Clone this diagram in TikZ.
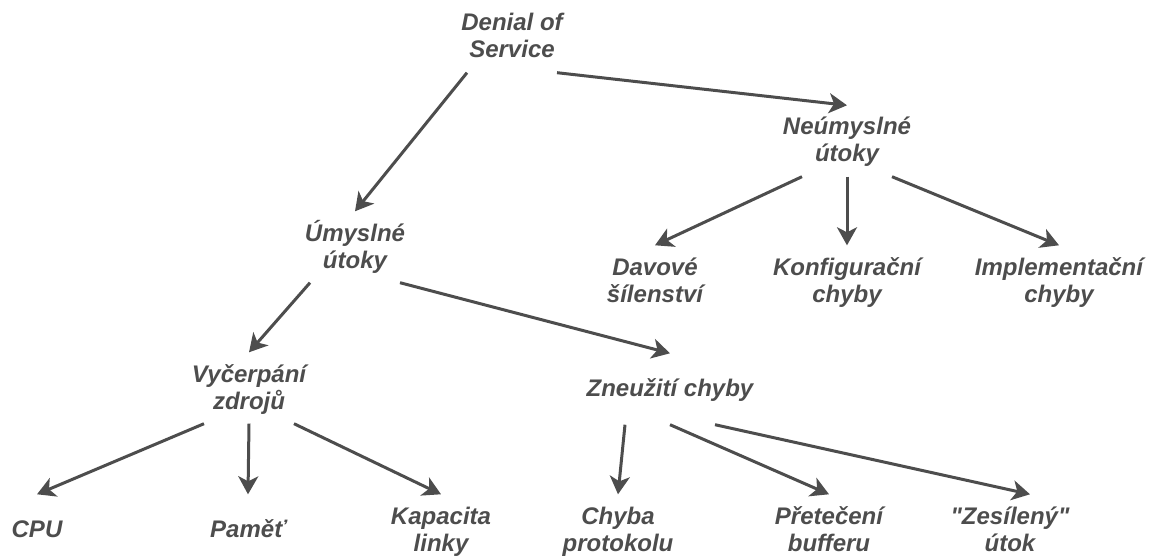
\documentclass[tikz,border=0pt]{standalone}
\usepackage{fontspec}
% no TeX ligatures, so " stays a straight double quote
\setmainfont{Liberation Sans}[Ligatures=TeXOff]
\usetikzlibrary{arrows.meta,calc}
\definecolor{ink}{HTML}{4D4D4D}
% one line of label text with a fixed line box
\newcommand{\lline}[1]{\rule[-6pt]{0pt}{27pt}#1}
\begin{document}
\begin{tikzpicture}[x=1pt,y=-1pt,
  lbl/.style={shape=rectangle, inner sep=0pt, minimum width=90pt, minimum height=71pt,
    align=center, text=ink, font=\fontsize{24}{27}\selectfont\bfseries\itshape},
  link/.style={draw=ink, line width=3pt, -{Stealth[length=18pt,width=20pt,inset=5pt]}}]
\useasboundingbox (0,0) rectangle (1149,556);

% tree nodes
\node[lbl] (dos) at (512,37)  {\lline{Denial of}\\\lline{Service}};
\node[lbl] (neu) at (847,141) {\lline{Neúmyslné}\\\lline{útoky}};
\node[lbl] (umy) at (355,247) {\lline{Úmyslné}\\\lline{útoky}};
\node[lbl] (dav) at (655,281) {\lline{Davové}\\\lline{šílenství}};
\node[lbl] (kon) at (847,281) {\lline{Konfigurační}\\\lline{chyby}};
\node[lbl] (imp) at (1059,281) {\lline{Implementační}\\\lline{chyby}};
\node[lbl] (vyc) at (249,388) {\lline{Vyčerpání}\\\lline{zdrojů}};
\node[lbl] (zne) at (670,389) {\lline{Zneužití chyby}};
\node[lbl] (cpu) at (37,530)  {\lline{CPU}};
\node[lbl] (pam) at (248,530) {\lline{Paměť}};
\node[lbl] (kap) at (441,530) {\lline{Kapacita}\\\lline{linky}};
\node[lbl] (chy) at (618,530) {\lline{Chyba}\\\lline{protokolu}};
\node[lbl] (pre) at (829,530) {\lline{Přetečení}\\\lline{bufferu}};
\node[lbl] (zes) at (1010,530) {\lline{"Zesílený"}\\\lline{útok}};

% connectors leave each parent at its centre or 45pt to either side
\draw[link] ($(dos.south)+(-45,0)$) -- (umy.north);
\draw[link] ($(dos.south)+(45,0)$)  -- (neu.north);
\draw[link] ($(neu.south)+(-45,0)$) -- (dav.north);
\draw[link] (neu.south)             -- (kon.north);
\draw[link] ($(neu.south)+(45,0)$)  -- (imp.north);
\draw[link] ($(umy.south)+(-45,0)$) -- (vyc.north);
\draw[link] ($(umy.south)+(45,0)$)  -- (zne.north);
\draw[link] ($(vyc.south)+(-45,0)$) -- (cpu.north);
\draw[link] (vyc.south)             -- (pam.north);
\draw[link] ($(vyc.south)+(45,0)$)  -- (kap.north);
\draw[link] ($(zne.south)+(-45,0)$) -- (chy.north);
\draw[link] (zne.south)             -- (pre.north);
\draw[link] ($(zne.south)+(45,0)$)  -- ($(zes.north)+(20,0)$);
\end{tikzpicture}
\end{document}
